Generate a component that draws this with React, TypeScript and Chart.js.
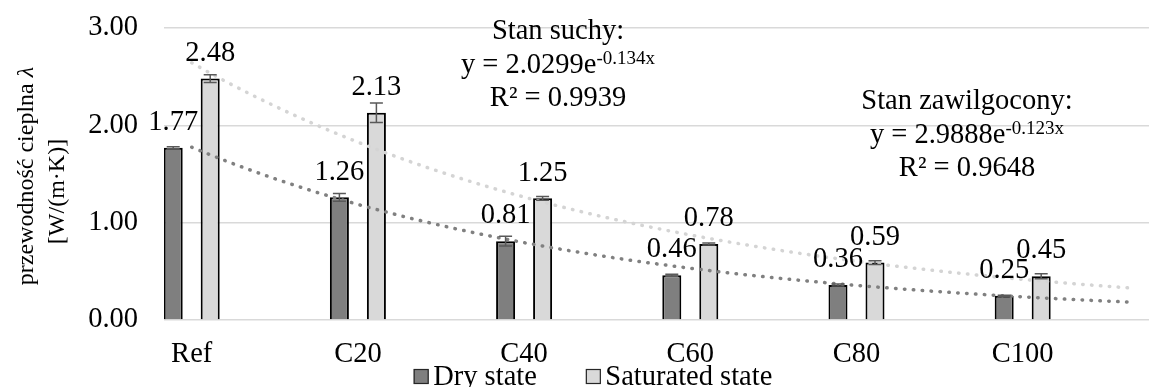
import React, { useEffect, useRef } from 'react';
import { Chart, registerables } from 'chart.js';

Chart.register(...registerables);

// Mix categories and their positions on the trend-line x scale
const categories = ['Ref', 'C20', 'C40', 'C60', 'C80', 'C100'];
const categoryX = [1, 4, 7, 10, 13, 16];

// Thermal conductivity λ [W/(m·K)]
const dryValues = [1.77, 1.26, 0.81, 0.46, 0.36, 0.25];
const saturatedValues = [2.48, 2.13, 1.25, 0.78, 0.59, 0.45];

// Standard deviations (error bars)
const dryErrors = [0.01, 0.04, 0.05, 0.01, 0.01, 0.005];
const saturatedErrors = [0.04, 0.1, 0.02, 0.01, 0.02, 0.025];

const yTicks = [0, 1, 2, 3];

// Exponential trend lines y = a·e^(b·x)
const dryTrend = { a: 2.0299, b: -0.134, r2: 0.9939 };
const saturatedTrend = { a: 2.9888, b: -0.123, r2: 0.9648 };
const trendXStart = 1;
const trendXEnd = 18;

const seriesNames = ['Dry state', 'Saturated state'];
const axisTitle = ['przewodność cieplna ', 'λ', '[W/(m·K)]'];

const FONT = "'Liberation Serif', 'Times New Roman', serif";
const DARK = '#7f7f7f';
const LIGHT = '#d9d9d9';

function trendPoints(t: { a: number; b: number }) {
  const pts: { x: number; y: number }[] = [];
  for (let x = trendXStart; x <= trendXEnd + 1e-9; x += 0.25) {
    pts.push({ x, y: t.a * Math.exp(t.b * x) });
  }
  return pts;
}

function drawEquation(
  ctx: CanvasRenderingContext2D,
  cx: number,
  top: number,
  heading: string,
  t: { a: number; b: number; r2: number }
) {
  const lh = 33.5;
  ctx.fillStyle = '#000';
  ctx.textBaseline = 'alphabetic';
  ctx.font = `28.5px ${FONT}`;
  ctx.textAlign = 'center';
  ctx.fillText(heading, cx, top);
  const main = `y = ${t.a.toFixed(4)}e`;
  const sup = `${t.b.toFixed(3)}x`;
  ctx.textAlign = 'left';
  const mw = ctx.measureText(main).width;
  ctx.font = `19px ${FONT}`;
  const sw = ctx.measureText(sup).width;
  const x0 = cx - (mw + sw) / 2;
  ctx.font = `28.5px ${FONT}`;
  ctx.fillText(main, x0, top + lh);
  ctx.font = `19px ${FONT}`;
  ctx.fillText(sup, x0 + mw, top + lh - 9);
  ctx.font = `28.5px ${FONT}`;
  ctx.textAlign = 'center';
  ctx.fillText(`R² = ${t.r2.toFixed(4)}`, cx, top + 2 * lh);
}

const overlayPlugin = {
  id: 'overlay',
  afterDatasetsDraw(chart: any) {
    const ctx: CanvasRenderingContext2D = chart.ctx;
    const yScale = chart.scales.y;
    const values = [dryValues, saturatedValues];
    const errors = [dryErrors, saturatedErrors];

    ctx.save();
    // error bars
    ctx.strokeStyle = '#595959';
    ctx.lineWidth = 1.5;
    for (let d = 0; d < 2; d++) {
      const meta = chart.getDatasetMeta(d);
      meta.data.forEach((el: any, i: number) => {
        const v = values[d][i];
        const e = errors[d][i];
        const yt = yScale.getPixelForValue(v + e);
        const yb = yScale.getPixelForValue(v - e);
        const cap = 6.5;
        ctx.beginPath();
        ctx.moveTo(el.x, yt);
        ctx.lineTo(el.x, yb);
        ctx.moveTo(el.x - cap, yt);
        ctx.lineTo(el.x + cap, yt);
        ctx.moveTo(el.x - cap, yb);
        ctx.lineTo(el.x + cap, yb);
        ctx.stroke();
      });
    }

    // value labels
    ctx.fillStyle = '#000';
    ctx.font = `28.5px ${FONT}`;
    ctx.textAlign = 'center';
    ctx.textBaseline = 'alphabetic';
    for (let d = 0; d < 2; d++) {
      const meta = chart.getDatasetMeta(d);
      meta.data.forEach((el: any, i: number) => {
        const v = values[d][i];
        ctx.fillText(v.toFixed(2), el.x, yScale.getPixelForValue(v) - 17.8);
      });
    }

    // trend equations
    drawEquation(ctx, 558, 39, 'Stan suchy:', dryTrend);
    drawEquation(ctx, 967, 109, 'Stan zawilgocony:', saturatedTrend);

    // legend
    const fills = [DARK, LIGHT];
    ctx.font = `28.5px ${FONT}`;
    ctx.textAlign = 'left';
    const box = 15;
    const gapText = 4.5;
    const gapItem = 49;
    const widths = seriesNames.map((n) => box + gapText + ctx.measureText(n).width);
    const total = widths[0] + gapItem + widths[1];
    let x = 593 - total / 2;
    const boxTop = 369;
    seriesNames.forEach((n, i) => {
      ctx.fillStyle = fills[i];
      ctx.fillRect(x, boxTop, box, box);
      ctx.strokeStyle = '#262626';
      ctx.lineWidth = 1.2;
      ctx.strokeRect(x + 0.5, boxTop + 0.5, box - 1, box - 1);
      ctx.fillStyle = '#000';
      ctx.fillText(n, x + box + gapText, 385);
      x += widths[i] + gapItem;
    });

    // y axis title (two rotated lines)
    ctx.font = `24px ${FONT}`;
    const w1 = ctx.measureText(axisTitle[0]).width;
    ctx.font = `italic 24px ${FONT}`;
    const w2 = ctx.measureText(axisTitle[1]).width;
    ctx.save();
    ctx.translate(33, 176);
    ctx.rotate(-Math.PI / 2);
    ctx.textAlign = 'left';
    ctx.fillStyle = '#000';
    ctx.font = `24px ${FONT}`;
    ctx.fillText(axisTitle[0], -(w1 + w2) / 2, 0);
    ctx.font = `italic 24px ${FONT}`;
    ctx.fillText(axisTitle[1], -(w1 + w2) / 2 + w1, 0);
    ctx.restore();
    ctx.save();
    ctx.translate(64, 191.5);
    ctx.rotate(-Math.PI / 2);
    ctx.textAlign = 'center';
    ctx.font = `24px ${FONT}`;
    ctx.fillText(axisTitle[2], 0, 0);
    ctx.restore();

    ctx.restore();
  },
};

export default function App() {
  const ref = useRef<HTMLCanvasElement>(null);

  useEffect(() => {
    document.body.style.margin = '0';
    const canvas = ref.current;
    if (!canvas) return;

    const chart = new Chart(canvas, {
      type: 'bar',
      data: {
        datasets: [
          {
            type: 'bar',
            label: seriesNames[0],
            data: categoryX.map((x, i) => ({ x, y: dryValues[i] })),
            backgroundColor: DARK,
            borderColor: '#000',
            borderWidth: 2,
            barPercentage: 0.514,
            categoryPercentage: 0.4453,
            order: 3,
          },
          {
            type: 'bar',
            label: seriesNames[1],
            data: categoryX.map((x, i) => ({ x, y: saturatedValues[i] })),
            backgroundColor: LIGHT,
            borderColor: '#000',
            borderWidth: 2,
            barPercentage: 0.514,
            categoryPercentage: 0.4453,
            order: 4,
          },
          {
            type: 'line',
            label: 'trend saturated',
            data: trendPoints(saturatedTrend),
            borderColor: '#d4d4d4',
            borderWidth: 3.5,
            borderDash: [0.5, 8.4],
            borderCapStyle: 'round',
            pointRadius: 0,
            fill: false,
            tension: 0,
            order: 2,
          },
          {
            type: 'line',
            label: 'trend dry',
            data: trendPoints(dryTrend),
            borderColor: '#808080',
            borderWidth: 3.5,
            borderDash: [0.5, 8.4],
            borderCapStyle: 'round',
            pointRadius: 0,
            fill: false,
            tension: 0,
            order: 1,
          },
        ] as any,
      },
      options: {
        responsive: false,
        animation: false,
        layout: { padding: { top: 28, left: 0, right: 0, bottom: 0 } },
        plugins: {
          legend: { display: false },
          tooltip: { enabled: false },
        },
        scales: {
          x: {
            type: 'linear',
            min: 0.5,
            max: 18.28,
            offset: false,
            grid: { display: false, drawTicks: false, offset: false },
            border: { display: false },
            afterBuildTicks: (s: any) => {
              s.ticks = categoryX.map((v) => ({ value: v }));
            },
            afterFit: (s: any) => {
              s.height = 67;
              s.paddingLeft = 0;
              s.paddingRight = 0;
            },
            ticks: {
              autoSkip: false,
              maxRotation: 0,
              padding: 17,
              color: '#000',
              font: { family: FONT, size: 28.5 },
              callback: (v: any) => {
                const i = categoryX.indexOf(Number(v));
                return i >= 0 ? categories[i] : '';
              },
            },
          },
          y: {
            min: 0,
            max: 3,
            afterBuildTicks: (s: any) => {
              s.ticks = yTicks.map((v) => ({ value: v }));
            },
            afterFit: (s: any) => {
              s.width = 164;
              s.paddingTop = 0;
              s.paddingBottom = 0;
            },
            grid: { color: '#d9d9d9', lineWidth: 1.5, drawTicks: false },
            border: { display: false },
            ticks: {
              padding: 26,
              color: '#000',
              font: { family: FONT, size: 28.5 },
              callback: (v: any) => Number(v).toFixed(2),
            },
          },
        },
      } as any,
      plugins: [overlayPlugin],
    });

    return () => chart.destroy();
  }, []);

  return <canvas ref={ref} width={1149} height={387} style={{ display: 'block' }} />;
}
